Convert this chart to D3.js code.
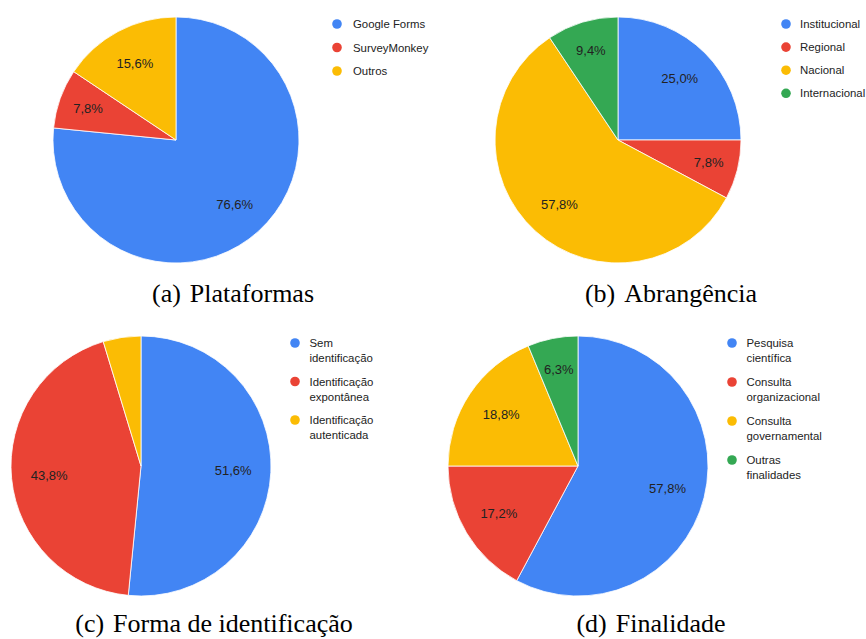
<!DOCTYPE html>
<html>
<head>
<meta charset="utf-8">
<script src="https://cdn.jsdelivr.net/npm/d3@7"></script>
<style>
  body { margin: 0; background: #fff; }
  svg { display: block; }
</style>
</head>
<body>
<svg id="chart" width="866" height="639"></svg>
<script>
// respostas (n = 64) por categoria
var platLabels = ['Google Forms', 'SurveyMonkey', 'Outros']
var platCounts = [49, 5, 10]

var abrLabels = ['Institucional', 'Regional', 'Nacional', 'Internacional']
var abrCounts = [16, 5, 37, 6]

var identLabels = [['Sem', 'identificação'], ['Identificação', 'expontânea'], ['Identificação', 'autenticada']]
var identCounts = [33, 28, 3]

var finLabels = [['Pesquisa', 'científica'], ['Consulta', 'organizacional'], ['Consulta', 'governamental'], ['Outras', 'finalidades']]
var finCounts = [37, 11, 12, 4]

var capTags = ['(a)', '(b)', '(c)', '(d)']
var capNames = ['Plataformas', 'Abrangência', 'Forma de identificação', 'Finalidade']

var colors = ['#4285f4', '#ea4335', '#fbbc04', '#34a853']

var svg = d3.select('#chart')

var panels = [
	{ labels: platLabels, values: platCounts, cx: 176, cy: 140, r: 123, lx: 337, ly: 24, step: 23.5, tx: 16, cap: 0, capX: 233, capY: 302 },
	{ labels: abrLabels, values: abrCounts, cx: 618, cy: 140, r: 123, lx: 786, ly: 24, step: 23.1, tx: 14, cap: 1, capX: 671, capY: 302 },
	{ labels: identLabels, values: identCounts, cx: 141, cy: 466, r: 130, lx: 295, ly: 343, step: 38.5, tx: 14.5, cap: 2, capX: 214, capY: 632 },
	{ labels: finLabels, values: finCounts, cx: 578, cy: 466, r: 130, lx: 732, ly: 343, step: 39, tx: 14.5, cap: 3, capX: 651, capY: 632 }
]

var fmt = function (v) { return d3.format('.1f')(v).replace('.', ',') + '%' }

function drawPie(p) {
	var total = d3.sum(p.values)
	var pie = d3.pie().sort(null).value(function (d) { return d })
	var arcs = pie(p.values)
	var arc = d3.arc().innerRadius(0).outerRadius(p.r)

	var g = svg.append('g')
		.attr('transform', 'translate(' + p.cx + ',' + p.cy + ')')

	g.selectAll('path')
		.data(arcs)
		.enter()
		.append('path')
		.attr('d', arc)
		.attr('fill', function (d, i) { return colors[i] })
		.attr('stroke', '#fff')
		.attr('stroke-width', 0.8)

	// etiquetas de porcentagem (fatias muito pequenas ficam sem texto)
	g.selectAll('text.lbl')
		.data(arcs.filter(function (d) { return d.value / total >= 0.05 }))
		.enter()
		.append('text')
		.attr('class', 'lbl')
		.attr('transform', function (d) {
			var share = d.value / total
			var k = share < 0.1 ? 0.76 : 0.71
			var c = d3.arc().innerRadius(0).outerRadius(2 * k * p.r).centroid(d)
			return 'translate(' + c[0] + ',' + c[1] + ')'
		})
		.attr('text-anchor', 'middle')
		.attr('dy', '0.36em')
		.style('font-family', '"Liberation Sans", Arial, sans-serif')
		.style('font-size', '13px')
		.style('fill', '#222')
		.text(function (d) { return fmt(100 * d.value / total) })

	// legenda
	var leg = svg.append('g')
		.selectAll('g')
		.data(p.labels)
		.enter()
		.append('g')
		.attr('transform', function (d, i) { return 'translate(' + p.lx + ',' + (p.ly + i * p.step) + ')' })
	leg.append('circle')
		.attr('r', 4.8)
		.attr('fill', function (d, i) { return colors[i] })
	leg.append('text')
		.style('font-family', '"Liberation Sans", Arial, sans-serif')
		.style('font-size', '11.4px')
		.style('fill', '#222')
		.each(function (d) {
			var lines = Array.isArray(d) ? d : [d]
			var t = d3.select(this)
			lines.forEach(function (s, j) {
				t.append('tspan')
					.attr('x', p.tx)
					.attr('y', j * 15)
					.attr('dy', '0.36em')
					.text(s)
			})
		})

	var cap = svg.append('text')
		.attr('x', p.capX)
		.attr('y', p.capY)
		.attr('text-anchor', 'middle')
		.style('font-family', '"Liberation Serif", "Times New Roman", serif')
		.style('font-size', '26px')
		.style('fill', '#000')
	cap.append('tspan').text(capTags[p.cap])
	cap.append('tspan').attr('dx', 9).text(capNames[p.cap])
}

panels.forEach(drawPie)
</script>
</body>
</html>
